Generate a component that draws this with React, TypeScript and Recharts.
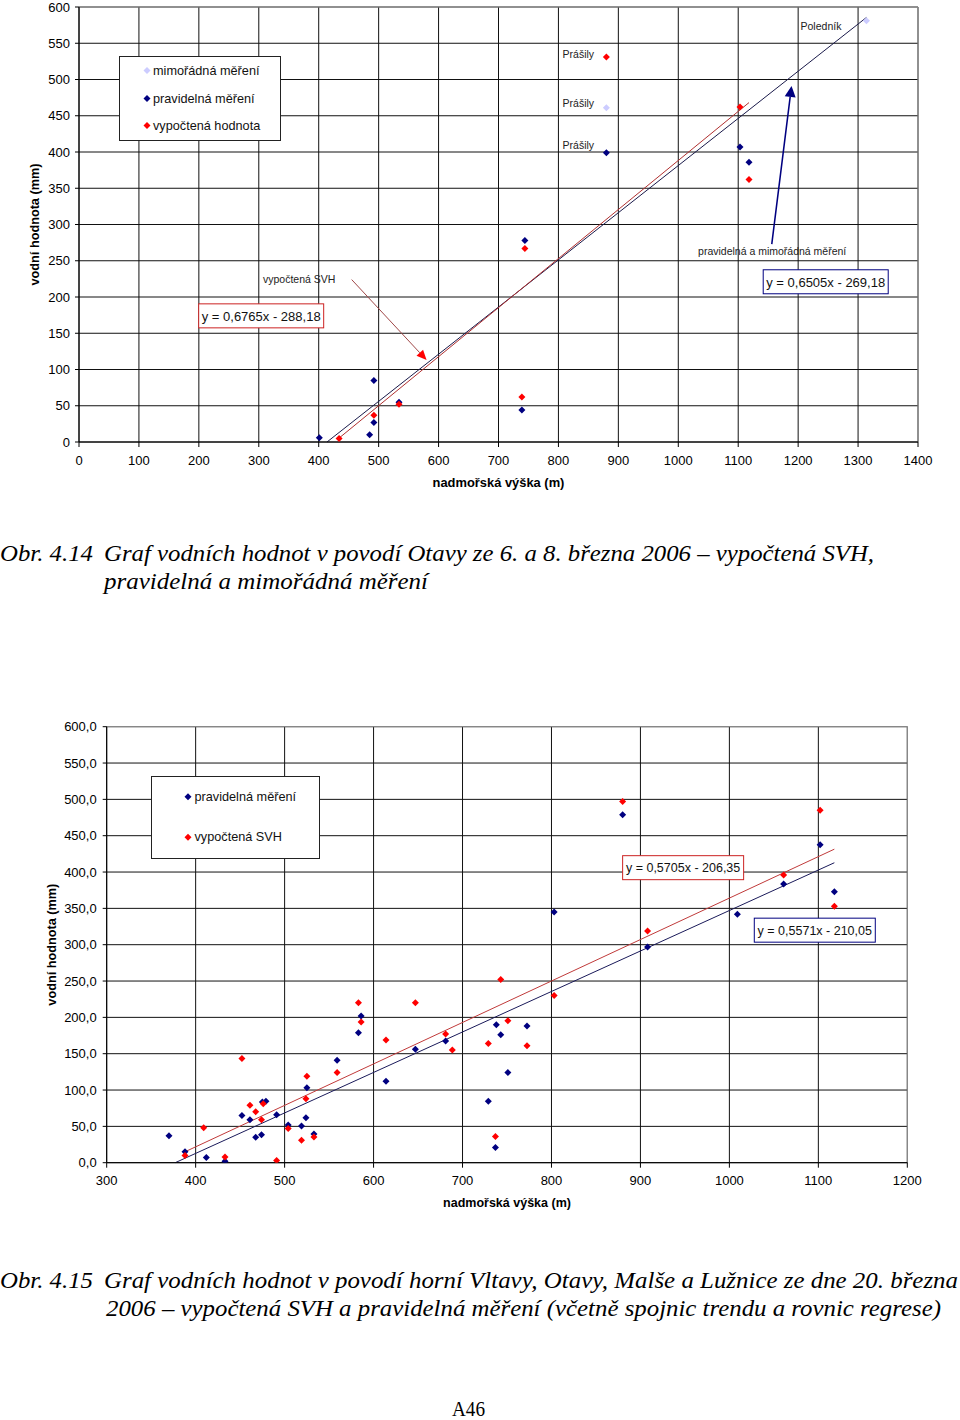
import React from 'react';
import { ScatterChart, Scatter, XAxis, YAxis, CartesianGrid, ReferenceLine, Legend } from 'recharts';

const NAVY = '#000080';
const RED = '#ff0000';
const LAVENDER = '#ccccff';
const FONT = '"Liberation Sans", Arial, sans-serif';
const SERIF = '"Liberation Serif", serif';

// ---------- Chart 1 (Obr. 4.14) ----------
const c1XTicks = [0, 100, 200, 300, 400, 500, 600, 700, 800, 900, 1000, 1100, 1200, 1300, 1400];
const c1YTicks = [0, 50, 100, 150, 200, 250, 300, 350, 400, 450, 500, 550, 600];
const c1Mimoradna = [
  { x: 880, y: 461 },
  { x: 1314, y: 581 },
];
const c1Pravidelna = [
  { x: 401, y: 6 },
  { x: 485, y: 10 },
  { x: 492, y: 27 },
  { x: 492, y: 85 },
  { x: 534, y: 55 },
  { x: 739, y: 44 },
  { x: 744, y: 278 },
  { x: 880, y: 399 },
  { x: 1103, y: 407 },
  { x: 1118, y: 386 },
];
const c1Vypoctena = [
  { x: 434, y: 5 },
  { x: 492, y: 37 },
  { x: 534, y: 52 },
  { x: 739, y: 62 },
  { x: 744, y: 267 },
  { x: 880, y: 531 },
  { x: 1103, y: 462 },
  { x: 1118, y: 362 },
];
const c1TrendRed = { slope: 0.6765, intercept: -288.18, xFrom: 434, xTo: 1118 };
const c1TrendNavy = { slope: 0.6505, intercept: -269.18, xFrom: 401, xTo: 1314 };
const c1Equations = [
  { x: 304, y: 174, text: 'y = 0,6765x - 288,18', color: '#cc2222' },
  { x: 1246, y: 221, text: 'y = 0,6505x - 269,18', color: NAVY },
];
const c1Notes = [
  { x: 807, y: 535, text: 'Prášily' },
  { x: 807, y: 468, text: 'Prášily' },
  { x: 807, y: 409, text: 'Prášily' },
  { x: 1204, y: 574, text: 'Poledník' },
  { x: 1033, y: 263, text: 'pravidelná a mimořádná měření' },
  { x: 307, y: 225, text: 'vypočtená SVH' },
];
const c1ArrowRed = [{ x: 455, y: 224 }, { x: 580, y: 113 }];
const c1ArrowNavy = [{ x: 1156, y: 273 }, { x: 1189, y: 491 }];
const c1Legend = [
  { name: 'mimořádná měření', color: LAVENDER },
  { name: 'pravidelná měření', color: NAVY },
  { name: 'vypočtená hodnota', color: RED },
];

// ---------- Chart 2 (Obr. 4.15) ----------
const c2XTicks = [300, 400, 500, 600, 700, 800, 900, 1000, 1100, 1200];
const c2YTicks = [0, 50, 100, 150, 200, 250, 300, 350, 400, 450, 500, 550, 600];
const c2Pravidelna = [
  { x: 370, y: 37 }, { x: 388, y: 15 }, { x: 412, y: 7 }, { x: 433, y: 2 },
  { x: 452, y: 65 }, { x: 461, y: 59 }, { x: 467.5, y: 35 }, { x: 474, y: 38.5 },
  { x: 475, y: 83.5 }, { x: 479, y: 84.5 }, { x: 491, y: 66 }, { x: 504, y: 52 },
  { x: 519, y: 50.5 }, { x: 524, y: 62 }, { x: 525, y: 103 }, { x: 533, y: 39.5 },
  { x: 559, y: 141 }, { x: 583, y: 179 }, { x: 586, y: 202 }, { x: 614, y: 112 },
  { x: 647, y: 156 }, { x: 681, y: 167.5 }, { x: 738, y: 190 }, { x: 743, y: 176 },
  { x: 772.5, y: 188 }, { x: 751, y: 124 }, { x: 729, y: 84.5 }, { x: 737, y: 21 },
  { x: 803, y: 345 }, { x: 880, y: 479 }, { x: 908, y: 297 }, { x: 1009, y: 342 },
  { x: 1061, y: 383.5 }, { x: 1102, y: 437.5 }, { x: 1118, y: 373 },
];
const c2Vypoctena = [
  { x: 388, y: 10 }, { x: 409, y: 48 }, { x: 433, y: 8 }, { x: 452, y: 143.5 },
  { x: 461, y: 79 }, { x: 467.5, y: 70 }, { x: 474, y: 59 }, { x: 476, y: 81 },
  { x: 491, y: 3 }, { x: 504, y: 47 }, { x: 519, y: 31 }, { x: 524, y: 88 },
  { x: 525, y: 119 }, { x: 533, y: 35.5 }, { x: 559, y: 124 }, { x: 583, y: 220 },
  { x: 586, y: 193.5 }, { x: 614, y: 169 }, { x: 647, y: 220 }, { x: 681, y: 177 },
  { x: 688.5, y: 155 }, { x: 729, y: 164 }, { x: 743, y: 252 }, { x: 751, y: 195.5 },
  { x: 772.5, y: 161 }, { x: 737, y: 36 }, { x: 803, y: 230 }, { x: 880, y: 497 },
  { x: 908, y: 319 }, { x: 1061, y: 396 }, { x: 1102, y: 485 }, { x: 1118, y: 353 },
];
const c2TrendRed = { slope: 0.5705, intercept: -206.35, xFrom: 388, xTo: 1118 };
const c2TrendNavy = { slope: 0.5571, intercept: -210.05, xFrom: 370, xTo: 1118 };
const c2Equations = [
  { x: 948, y: 406, text: 'y = 0,5705x - 206,35', color: '#cc2222' },
  { x: 1096, y: 320, text: 'y = 0,5571x - 210,05', color: NAVY },
];
const c2Legend = [
  { name: 'pravidelná měření', color: NAVY },
  { name: 'vypočtená SVH', color: RED },
];

// ---------- Captions ----------
const caption1 = ['Obr. 4.14', 'Graf vodních hodnot v povodí Otavy ze 6. a 8. března 2006 – vypočtená SVH,', 'pravidelná a mimořádná měření'];
const caption2 = ['Obr. 4.15', 'Graf vodních hodnot v povodí horní Vltavy, Otavy, Malše a Lužnice ze dne 20. března', '2006 – vypočtená SVH a pravidelná měření (včetně spojnic trendu a rovnic regrese)'];
const pageNumber = 'A46';

type Trend = { slope: number; intercept: number; xFrom: number; xTo: number };
function trendSegment(t: Trend) {
  const x0 = Math.max(t.xFrom, -t.intercept / t.slope);
  return [
    { x: x0, y: t.slope * x0 + t.intercept },
    { x: t.xTo, y: t.slope * t.xTo + t.intercept },
  ];
}

const diamond = (color: string, r = 3.5) => (props: any) => {
  const { cx, cy } = props;
  if (cx == null || cy == null) return <g />;
  return (
    <polygon
      points={`${cx},${cy - r} ${cx + r},${cy} ${cx},${cy + r} ${cx - r},${cy}`}
      fill={color}
    />
  );
};

const noteShape = (props: any) => {
  const { cx, cy, payload } = props;
  if (cx == null) return <g />;
  return (
    <text x={cx} y={cy} dominantBaseline="central" fontSize={10.5} fontFamily={FONT} fill="#222">
      {payload.text}
    </text>
  );
};

const eqShape = (boxW: number, boxH: number, fs: number) => (props: any) => {
  const { cx, cy, payload } = props;
  if (cx == null) return <g />;
  return (
    <g>
      <rect x={cx - boxW / 2} y={cy - boxH / 2} width={boxW} height={boxH} fill="#fff" stroke={payload.color} strokeWidth={1} />
      <text x={cx} y={cy + 0.5} textAnchor="middle" dominantBaseline="central" fontSize={fs} fontFamily={FONT} fill="#111">
        {payload.text}
      </text>
    </g>
  );
};

const arrowShape = (lineColor: string, headColor: string, sw: number, headLen: number, headW: number) => (props: any) => {
  const { x1, y1, x2, y2 } = props;
  if ([x1, y1, x2, y2].some((v) => v == null || isNaN(v))) return <g />;
  const ang = Math.atan2(y2 - y1, x2 - x1);
  const bx = x2 - headLen * Math.cos(ang);
  const by = y2 - headLen * Math.sin(ang);
  const px = (-Math.sin(ang) * headW) / 2;
  const py = (Math.cos(ang) * headW) / 2;
  return (
    <g>
      <line x1={x1} y1={y1} x2={bx} y2={by} stroke={lineColor} strokeWidth={sw} />
      <polygon points={`${x2},${y2} ${bx + px},${by + py} ${bx - px},${by - py}`} fill={headColor} />
    </g>
  );
};

const LegendBox = ({ items, w, h, dx, tx, rows }: any) => (
  <div style={{ width: w, height: h, position: 'relative' }}>
    <svg width={w} height={h} style={{ display: 'block' }}>
      <rect x={0.5} y={0.5} width={w - 1} height={h - 1} fill="#fff" stroke="#222" />
      {items.map((it: any, i: number) => {
        const cy = rows[i];
        return (
          <g key={i}>
            <polygon points={`${dx},${cy - 3.5} ${dx + 3.5},${cy} ${dx},${cy + 3.5} ${dx - 3.5},${cy}`} fill={it.color} />
            <text x={tx} y={cy} dominantBaseline="central" fontSize={12.7} fontFamily={FONT} fill="#111">
              {it.name}
            </text>
          </g>
        );
      })}
    </svg>
  </div>
);

const yLabel = (cxOff: number) => (props: any) => {
  const vb = props.viewBox || {};
  const x = (vb.x || 0) + cxOff;
  const y = (vb.y || 0) + (vb.height || 0) / 2;
  return (
    <text x={x} y={y} transform={`rotate(-90 ${x} ${y})`} textAnchor="middle" dominantBaseline="central" fontSize={12.7} fontWeight="bold" fontFamily={FONT} fill="#000">
      vodní hodnota (mm)
    </text>
  );
};
const xLabel = (dy: number, fs: number) => (props: any) => {
  const vb = props.viewBox || {};
  const x = (vb.x || 0) + (vb.width || 0) / 2;
  const y = (vb.y || 0) + dy;
  return (
    <text x={x} y={y} textAnchor="middle" dominantBaseline="central" fontSize={fs} fontWeight="bold" fontFamily={FONT} fill="#000">
      nadmořská výška (m)
    </text>
  );
};

const tickStyle = { fontSize: 13, fontFamily: FONT, fill: '#000' };

function Chart1() {
  return (
    <ScatterChart width={960} height={500} margin={{ top: 7, right: 42, bottom: 0, left: 0 }}>
      <CartesianGrid stroke="#111" strokeWidth={1} />
      <XAxis type="number" dataKey="x" domain={[0, 1400]} ticks={c1XTicks} allowDataOverflow height={58}
        stroke="#000" tickSize={5} tickMargin={9} tick={tickStyle} interval={0} label={xLabel(40, 12.9)} />
      <YAxis type="number" dataKey="y" domain={[0, 600]} ticks={c1YTicks} allowDataOverflow width={79}
        stroke="#000" tickSize={4} tickMargin={5} tick={tickStyle} interval={0} label={yLabel(35)} />
      <ReferenceLine y={600} stroke="#999" />
      <ReferenceLine x={1400} stroke="#999" />
      <ReferenceLine segment={trendSegment(c1TrendNavy)} stroke="#1a1a4a" strokeWidth={1} />
      <ReferenceLine segment={trendSegment(c1TrendRed)} stroke="#b03030" strokeWidth={1} />
      <ReferenceLine segment={c1ArrowRed} shape={arrowShape('#a04848', RED, 1, 10, 9)} />
      <ReferenceLine segment={c1ArrowNavy} shape={arrowShape(NAVY, NAVY, 1.5, 11, 11)} />
      <Scatter data={c1Mimoradna} shape={diamond(LAVENDER)} isAnimationActive={false} />
      <Scatter data={c1Pravidelna} shape={diamond(NAVY)} isAnimationActive={false} />
      <Scatter data={c1Vypoctena} shape={diamond(RED)} isAnimationActive={false} />
      <Scatter data={c1Notes} shape={noteShape} isAnimationActive={false} />
      <Scatter data={c1Equations} shape={eqShape(125, 24, 13)} isAnimationActive={false} />
      <Legend layout="vertical" align="center" verticalAlign="middle"
        wrapperStyle={{ left: 119, top: 56, width: 162, height: 85 }}
        content={() => <LegendBox items={c1Legend} w={162} h={85} dx={28} tx={34} rows={[14.5, 42.5, 69.5]} />} />
    </ScatterChart>
  );
}

function Chart2() {
  return (
    <ScatterChart width={960} height={520} margin={{ top: 26.7, right: 52.7, bottom: 0, left: 0 }}>
      <CartesianGrid stroke="#111" strokeWidth={1} />
      <XAxis type="number" dataKey="x" domain={[300, 1200]} ticks={c2XTicks} allowDataOverflow height={57.3}
        stroke="#000" tickSize={5} tickMargin={8} tick={tickStyle} interval={0} label={xLabel(40, 12.5)} />
      <YAxis type="number" dataKey="y" domain={[0, 600]} ticks={c2YTicks} allowDataOverflow width={106.7}
        stroke="#000" tickSize={4} tickMargin={6} tick={tickStyle} interval={0}
        tickFormatter={(v: number) => v.toFixed(1).replace('.', ',')} label={yLabel(52)} />
      <ReferenceLine y={600} stroke="#999" />
      <ReferenceLine x={1200} stroke="#999" />
      <ReferenceLine segment={trendSegment(c2TrendNavy)} stroke="#1a1a5a" strokeWidth={1} />
      <ReferenceLine segment={trendSegment(c2TrendRed)} stroke="#c03a3a" strokeWidth={1} />
      <Scatter data={c2Pravidelna} shape={diamond(NAVY)} isAnimationActive={false} />
      <Scatter data={c2Vypoctena} shape={diamond(RED)} isAnimationActive={false} />
      <Scatter data={c2Equations} shape={eqShape(121, 24, 12.5)} isAnimationActive={false} />
      <Legend layout="vertical" align="center" verticalAlign="middle"
        wrapperStyle={{ left: 150.7, top: 76, width: 169, height: 83 }}
        content={() => <LegendBox items={c2Legend} w={169} h={83} dx={37} tx={43.5} rows={[20.7, 61.3]} />} />
    </ScatterChart>
  );
}

function Captions() {
  const it = { fontFamily: SERIF, fontStyle: 'italic' as const, fontSize: 23, fill: '#000' };
  return (
    <svg width={960} height={1420} style={{ position: 'absolute', left: 0, top: 0 }}>
      <text x={0} y={561} textLength={93} lengthAdjust="spacingAndGlyphs" {...it}>{caption1[0]}</text>
      <text x={104} y={561} textLength={770} lengthAdjust="spacingAndGlyphs" {...it}>{caption1[1]}</text>
      <text x={104} y={589} textLength={324} lengthAdjust="spacingAndGlyphs" {...it}>{caption1[2]}</text>
      <text x={0} y={1288} textLength={93} lengthAdjust="spacingAndGlyphs" {...it}>{caption2[0]}</text>
      <text x={104} y={1288} textLength={854} lengthAdjust="spacingAndGlyphs" {...it}>{caption2[1]}</text>
      <text x={106} y={1316} textLength={835} lengthAdjust="spacingAndGlyphs" {...it}>{caption2[2]}</text>
      <text x={452} y={1416} textLength={33} lengthAdjust="spacingAndGlyphs" fontFamily={SERIF} fontSize={21} fill="#000">{pageNumber}</text>
    </svg>
  );
}

export default function App() {
  return (
    <div style={{ position: 'absolute', left: 0, top: 0, width: 960, height: 1420, background: '#fff', overflow: 'hidden' }}>
      <Captions />
      <div style={{ position: 'absolute', left: 0, top: 0 }}>
        <Chart1 />
      </div>
      <div style={{ position: 'absolute', left: 0, top: 700 }}>
        <Chart2 />
      </div>
    </div>
  );
}
